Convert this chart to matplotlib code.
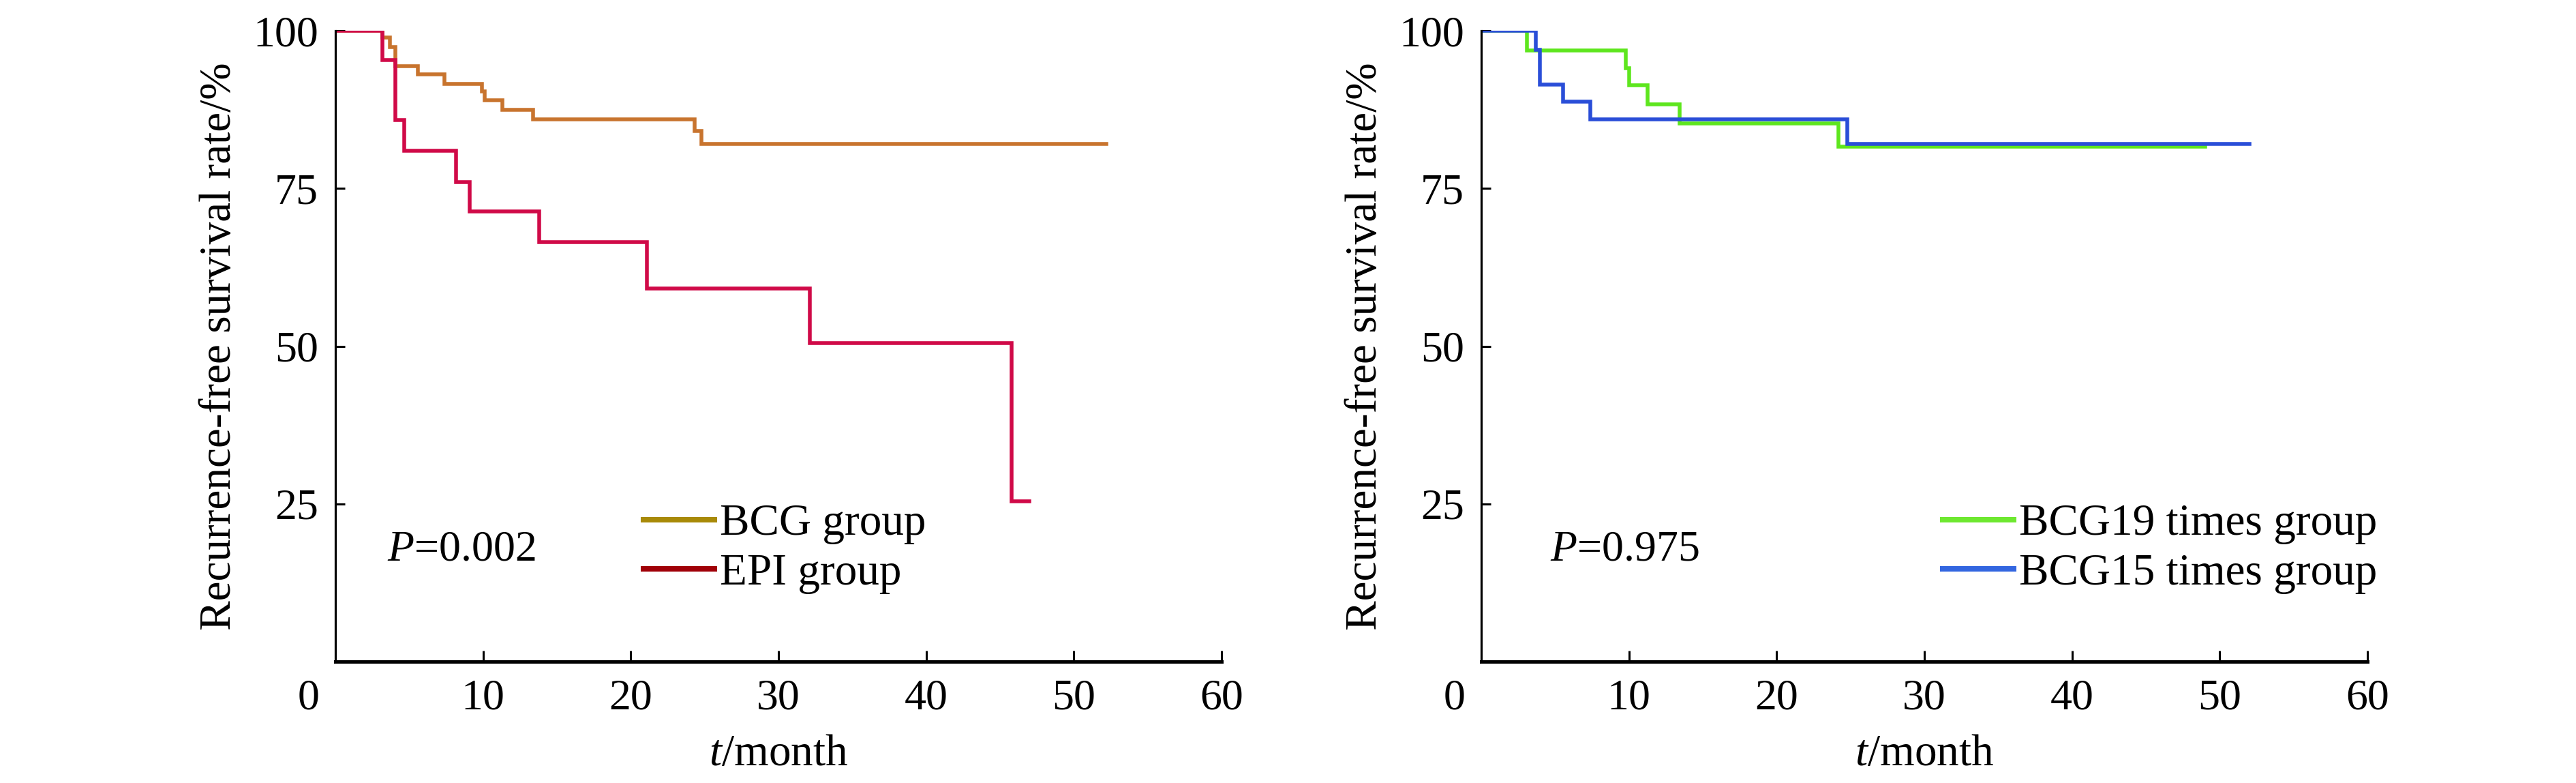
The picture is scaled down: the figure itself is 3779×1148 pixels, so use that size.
import matplotlib
matplotlib.use('Agg')
import matplotlib.pyplot as plt
from matplotlib.lines import Line2D
from matplotlib.transforms import ScaledTranslation

plt.rcParams['font.family'] = ['Liberation Serif', 'DejaVu Serif']
plt.rcParams['mathtext.fontset'] = 'custom'
plt.rcParams['mathtext.rm'] = 'Liberation Serif'
plt.rcParams['mathtext.it'] = 'Liberation Serif:italic'

# Kaplan-Meier curves (month, survival %)
bcg_t = [0, 3.2, 3.7, 4.05, 5.6, 7.4, 9.9, 10.1, 11.3, 13.4, 24.3, 24.8, 52.2]
bcg_s = [100, 98.9, 97.4, 94.4, 93.1, 91.6, 90.4, 89.0, 87.5, 86.0, 84.1, 82.1, 82.1]
epi_t = [0, 3.2, 4.05, 4.65, 8.15, 9.1, 13.8, 21.1, 32.1, 45.8, 47.0]
epi_s = [100, 95.3, 85.8, 81.0, 76.0, 71.3, 66.5, 59.1, 50.5, 25.4, 25.4]

bcg19_t = [0, 3.1, 9.8, 10.0, 11.25, 13.45, 24.2, 49.0]
bcg19_s = [100, 96.9, 94.1, 91.3, 88.3, 85.3, 81.6, 81.6]
bcg15_t = [0, 3.7, 3.98, 5.55, 7.37, 24.8, 52.0]
bcg15_s = [100, 97.0, 91.5, 88.8, 86.0, 82.1, 82.1]

x_ticks = [0, 10, 20, 30, 40, 50, 60]
y_ticks = [25, 50, 75, 100]

panels = [
    {'curves': [(bcg_t, bcg_s, '#C8742E'), (epi_t, epi_s, '#D00A48')],
     'legend': [('BCG group', '#A88A08'), ('EPI group', '#A00008')],
     'p': '$P$=0.002', 'p_x': 3.5, 'left': 492, 'leg_x': 944},
    {'curves': [(bcg19_t, bcg19_s, '#5EE61E'), (bcg15_t, bcg15_s, '#2A4ED8')],
     'legend': [('BCG19 times group', '#6EE830'), ('BCG15 times group', '#3366E0')],
     'p': '$P$=0.975', 'p_x': 4.66, 'left': 2173, 'leg_x': 2850},
]

W, H = 3780, 1148
fig = plt.figure(figsize=(W / 100, H / 100), dpi=100)
fs = 46

for pn in panels:
    ax = fig.add_axes([pn['left'] / W, 1 - 970 / H, 1300 / W, 925 / H])
    for t, s, c in pn['curves']:
        ax.step(t, s, where='post', color=c, lw=4.0, solid_joinstyle='miter')
    ax.set_xlim(0, 60)
    ax.set_ylim(0, 100)
    ax.set_xticks(x_ticks)
    ax.set_yticks(y_ticks)
    ax.spines['top'].set_visible(False)
    ax.spines['right'].set_visible(False)
    ax.spines['left'].set_linewidth(2.3)
    ax.spines['bottom'].set_linewidth(3.6)
    ax.tick_params(axis='x', direction='in', length=11.5, width=2.2, pad=18, labelsize=fs)
    ax.tick_params(axis='y', direction='in', length=10, width=2.2, pad=18, labelsize=fs)
    # the "0" label sits left of the corner
    lab0 = ax.get_xticklabels()[0]
    lab0.set_transform(lab0.get_transform() + ScaledTranslation(-0.39, 0, fig.dpi_scale_trans))
    ax.get_xticklines()[0].set_visible(False)

    ax.set_xlabel('$t$/month', fontsize=fs + 1)
    ax.xaxis.set_label_coords(0.5, -0.115)
    ax.set_ylabel('Recurrence-free survival rate/%', fontsize=fs + 1)
    ax.yaxis.set_label_coords(-0.108, 0.5)

    ax.text(pn['p_x'], 16.1, pn['p'], fontsize=fs, va='baseline', ha='left')

    handles = [Line2D([], [], color=c, lw=5.8) for _, c in pn['legend']]
    ax.legend(handles, [l for l, _ in pn['legend']], loc='center left',
              bbox_to_anchor=(pn['leg_x'] / W, 1 - 805 / H), bbox_transform=fig.transFigure,
              frameon=False, fontsize=fs + 1, handlelength=1.6, handletextpad=0.12,
              labelspacing=0.2, borderpad=0, borderaxespad=0)

fig.savefig('out.png', dpi=100)
